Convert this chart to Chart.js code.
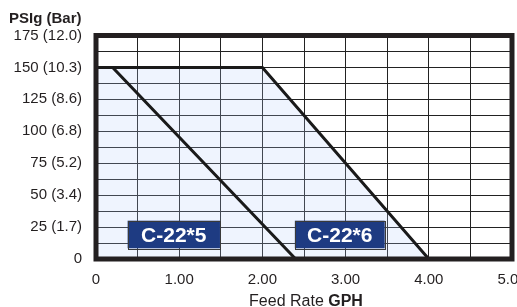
<!DOCTYPE html>
<html>
<head>
<meta charset="utf-8">
<script src="https://cdn.jsdelivr.net/npm/chart.js@4/dist/chart.umd.min.js"></script>
<style>
  html, body { margin: 0; padding: 0; background: #ffffff; }
  #wrap { width: 517px; height: 307px; position: relative; }
</style>
</head>
<body>
<div id="wrap"><canvas id="c" width="517" height="307"></canvas></div>
<script>
// ---- data ----
const seriesNames = ['C-22*5', 'C-22*6'];
const c225X = [0, 0.2, 2.4];
const c225Y = [150, 150, 0];
const c226X = [0, 2.0, 4.0];
const c226Y = [150, 150, 0];
const yTickValues = [0, 25, 50, 75, 100, 125, 150, 175];
const yTickLabels = ['0', '25 (1.7)', '50 (3.4)', '75 (5.2)', '100 (6.8)', '125 (8.6)', '150 (10.3)', '175 (12.0)'];
const xTickValues = [0, 1, 2, 3, 4, 5];
const xTickLabels = ['0', '1.00', '2.00', '3.00', '4.00', '5.00'];
const yAxisTitle = 'PSIg (Bar)';
const xAxisTitleA = 'Feed Rate ';
const xAxisTitleB = 'GPH';

const FONT = "'Liberation Sans', Arial, sans-serif";
const INK = '#231f20';

function pts(xs, ys) { return xs.map((x, i) => ({ x: x, y: ys[i] })); }

const framePlugin = {
  id: 'frameAndLabels',
  afterDatasetsDraw(chart) {
    const ctx = chart.ctx, a = chart.chartArea;
    const xs = chart.scales.x, ys = chart.scales.y;
    ctx.save();
    ctx.strokeStyle = INK;
    ctx.lineWidth = 5;
    ctx.strokeRect(a.left, a.top, a.right - a.left, a.bottom - a.top);
    const boxes = chart.options.plugins.frameAndLabels.boxes;
    boxes.forEach((b, i) => {
      const x1 = xs.getPixelForValue(b.x0), x2 = xs.getPixelForValue(b.x1);
      const y1 = ys.getPixelForValue(b.y1), y2 = ys.getPixelForValue(b.y0);
      ctx.fillStyle = '#1e3b82';
      ctx.fillRect(x1, y1, x2 - x1, y2 - y1);
      ctx.strokeStyle = '#3a3a3a';
      ctx.lineWidth = 1;
      ctx.strokeRect(Math.round(x1) + 0.5, Math.round(y1) + 0.5, Math.round(x2 - x1), Math.round(y2 - y1));
      ctx.fillStyle = '#ffffff';
      ctx.font = 'bold 21px ' + FONT;
      ctx.textAlign = 'center';
      ctx.textBaseline = 'alphabetic';
      ctx.fillText(seriesNames[i], (x1 + x2) / 2, (y1 + y2) / 2 + 7.5);
    });
    ctx.restore();
  },
  afterDraw(chart) {
    const ctx = chart.ctx, a = chart.chartArea;
    ctx.save();
    ctx.fillStyle = INK;
    ctx.textBaseline = 'alphabetic';
    ctx.textAlign = 'left';
    ctx.font = '16px ' + FONT;
    const wA = ctx.measureText(xAxisTitleA).width;
    ctx.font = 'bold 16px ' + FONT;
    const wB = ctx.measureText(xAxisTitleB).width;
    const cx = (a.left + a.right) / 2 + 2;
    const sx = cx - (wA + wB) / 2;
    ctx.font = '16px ' + FONT;
    ctx.fillText(xAxisTitleA, sx, 305.5);
    ctx.font = 'bold 16px ' + FONT;
    ctx.fillText(xAxisTitleB, sx + wA, 305.5);
    ctx.restore();
  }
};

new Chart(document.getElementById('c'), {
  type: 'scatter',
  data: {
    datasets: [
      {
        label: seriesNames[1],
        data: pts(c226X, c226Y),
        order: 2,
        showLine: true,
        borderColor: '#1a1a1a',
        borderWidth: 3,
        pointRadius: 0,
        fill: 'origin',
        backgroundColor: 'rgba(180,205,250,0.22)',
        tension: 0
      },
      {
        label: seriesNames[0],
        data: pts(c225X, c225Y),
        order: 1,
        showLine: true,
        borderColor: '#1a1a1a',
        borderWidth: 3,
        pointRadius: 0,
        fill: false,
        tension: 0
      }
    ]
  },
  options: {
    responsive: false,
    animation: false,
    devicePixelRatio: 1,
    layout: { padding: { left: 9, right: 5, top: 0, bottom: 0 } },
    plugins: {
      legend: { display: false },
      tooltip: { enabled: false },
      title: {
        display: true,
        text: yAxisTitle,
        align: 'start',
        color: INK,
        font: { family: FONT, size: 15, weight: 'bold', lineHeight: 1.2 },
        padding: { top: 9.5, bottom: 8 }
      },
      frameAndLabels: {
        boxes: [
          { x0: 0.38, x1: 1.49, y0: 8.4, y1: 30 },
          { x0: 2.39, x1: 3.47, y0: 8.4, y1: 30 }
        ]
      }
    },
    scales: {
      x: {
        type: 'linear',
        min: 0, max: 5,
        ticks: {
          stepSize: 0.5,
          autoSkip: false,
          maxRotation: 0,
          padding: 12,
          color: INK,
          font: { family: FONT, size: 15 },
          callback: function (v) {
            const i = xTickValues.indexOf(v);
            return i >= 0 ? xTickLabels[i] : '';
          }
        },
        grid: { color: '#222222', lineWidth: 1, drawTicks: false },
        border: { display: false },
        afterFit: function (s) { s.height = 48; s.paddingLeft = 0; s.paddingRight = 0; }
      },
      y: {
        type: 'linear',
        min: 0, max: 175,
        ticks: {
          stepSize: 12.5,
          autoSkip: false,
          padding: 14,
          color: INK,
          font: { family: FONT, size: 15 },
          callback: function (v) {
            const i = yTickValues.indexOf(v);
            return i >= 0 ? yTickLabels[i] : '';
          }
        },
        grid: { color: '#222222', lineWidth: 1, drawTicks: false },
        border: { display: false },
        afterFit: function (s) { s.width = 87; s.paddingTop = 0; s.paddingBottom = 0; }
      }
    }
  },
  plugins: [framePlugin]
});
</script>
</body>
</html>
